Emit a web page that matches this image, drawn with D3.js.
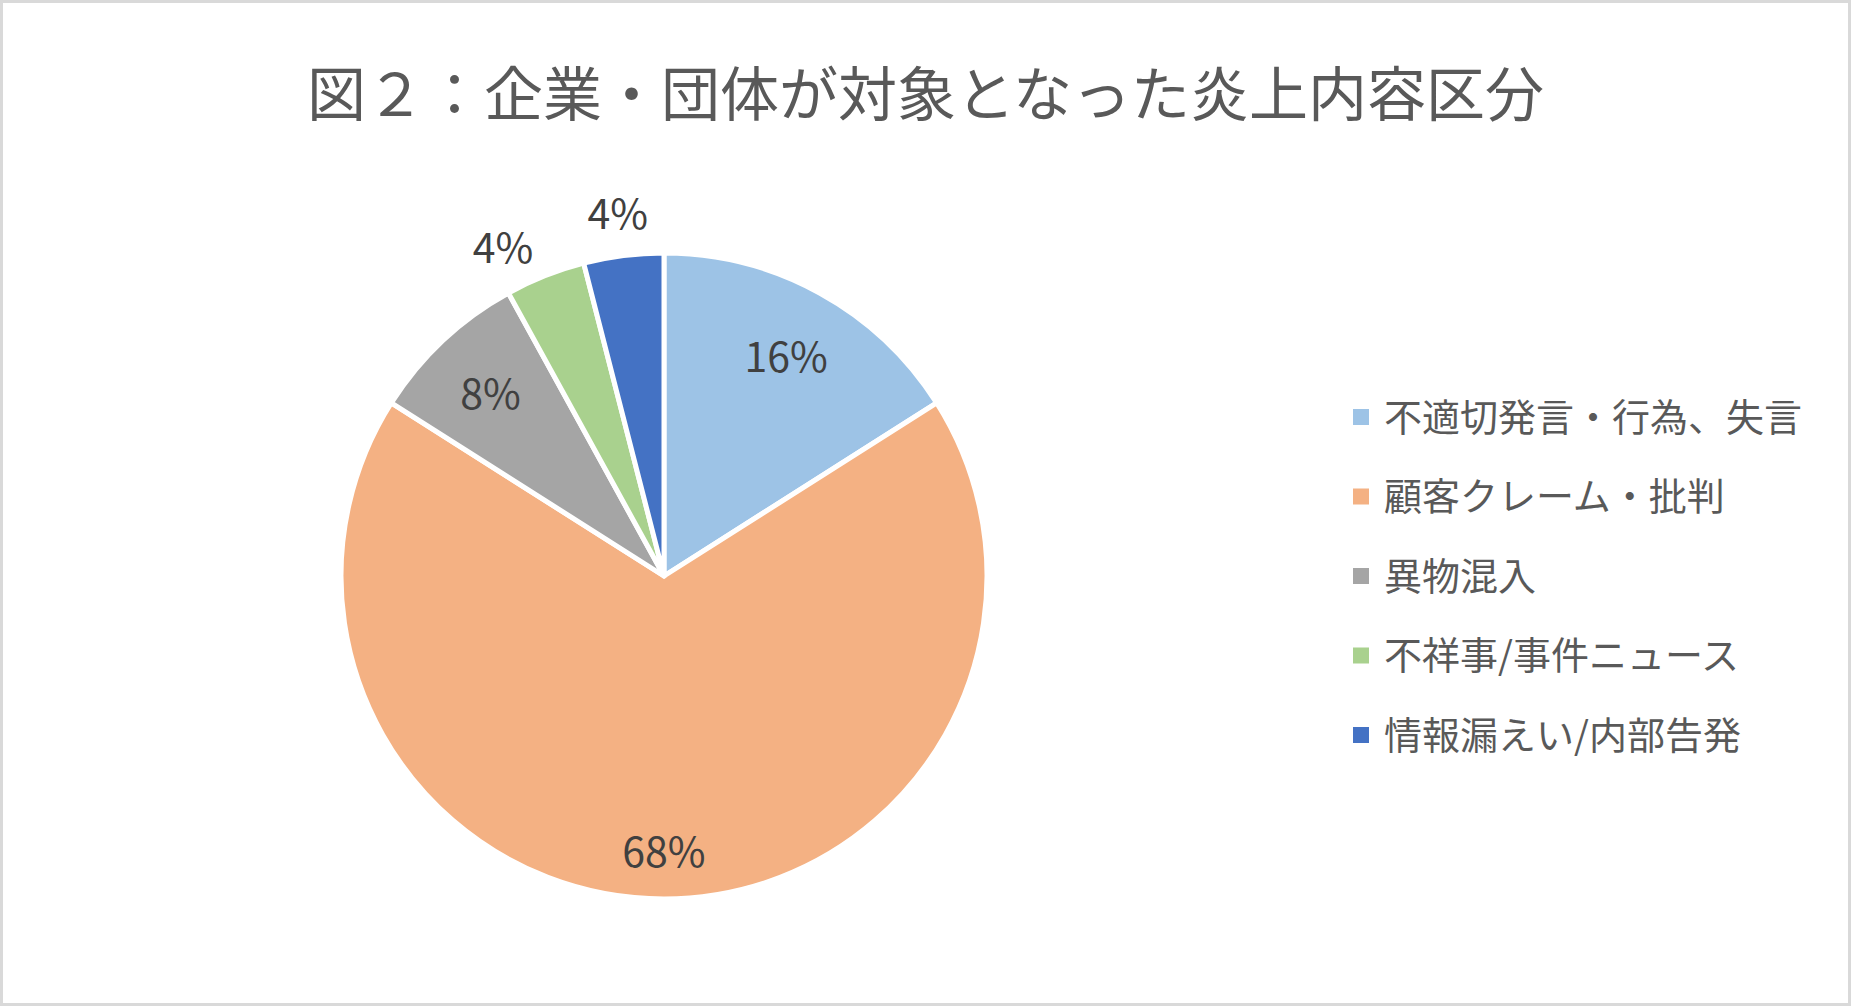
<!DOCTYPE html>
<html lang="ja">
<head>
<meta charset="UTF-8">
<title>図２：企業・団体が対象となった炎上内容区分</title>
<script src="https://cdnjs.cloudflare.com/ajax/libs/d3/7.8.5/d3.min.js"></script>
<style>
  body { margin: 0; background: #fff; }
  svg { display: block; font-family: "Noto Sans CJK JP", "Noto Sans", sans-serif; }
</style>
</head>
<body>
<svg id="chart" width="1851" height="1006"></svg>
<script>
// data (counts giving 16/68/8/4/4 %)
const categories = ["不適切発言・行為、失言", "顧客クレーム・批判", "異物混入", "不祥事/事件ニュース", "情報漏えい/内部告発"];
const counts = [4, 17, 2, 1, 1];
const colors = ["#9dc3e6", "#f4b183", "#a5a5a5", "#a9d18e", "#4472c4"];
const title = "図２：企業・団体が対象となった炎上内容区分";

const W = 1851, H = 1006;
const svg = d3.select("#chart");

// outer frame
svg.append("rect")
  .attr("x", 1.5).attr("y", 1.5)
  .attr("width", W - 3).attr("height", H - 3)
  .attr("fill", "#fff")
  .attr("stroke", "#d9d9d9")
  .attr("stroke-width", 3);

// title
svg.append("text")
  .attr("x", W / 2).attr("y", 90)
  .attr("text-anchor", "middle")
  .attr("dominant-baseline", "central")
  .attr("fill", "#595959")
  .attr("font-size", 59)
  .text(title);

// pie
const cx = 664, cy = 576, r = 323;
const total = d3.sum(counts);
const items = categories.map((c, i) => ({ name: c, value: counts[i], color: colors[i] }));

const pie = d3.pie().sort(null).value(d => d.value);
const arcs = pie(items);
const arc = d3.arc().innerRadius(0).outerRadius(r);

const g = svg.append("g").attr("transform", `translate(${cx},${cy})`);

g.selectAll("path")
  .data(arcs)
  .enter()
  .append("path")
  .attr("d", arc)
  .attr("fill", d => d.data.color)
  .attr("stroke", "#fff")
  .attr("stroke-width", 5)
  .attr("stroke-linejoin", "round");

// percentage labels: small slices go outside, big ones inside
const fmt = d3.format(".0%");

g.selectAll("text.pct")
  .data(arcs)
  .enter()
  .append("text")
  .attr("class", "pct")
  .attr("text-anchor", "middle")
  .attr("dominant-baseline", "central")
  .attr("fill", "#404040")
  .attr("font-size", 41)
  .text(d => fmt(d.data.value / total))
  .each(function (d) {
    const share = d.data.value / total;
    const a = (d.startAngle + d.endAngle) / 2;
    const s = Math.sin(a), c = Math.cos(a);
    let x, y;
    if (share < 0.05) {
      // outside: push the box away from the edge like Excel's best fit
      const box = this.getBBox();
      const R = r * 1.14;
      const t = Math.max(0, Math.min(1, (Math.abs(s) - 0.2) * 5));
      x = R * s + Math.sign(s) * t * box.width / 2;
      y = -R * c + c * t * box.height / 4;
    } else {
      const lr = share > 0.5 ? r * 0.845 : r * 0.785;
      x = lr * s;
      y = -lr * c;
    }
    d3.select(this).attr("x", x).attr("y", y);
  });

// legend
const legendY = d3.scalePoint()
  .domain(categories)
  .range([417, 735]);

const lg = svg.append("g");
const row = lg.selectAll("g")
  .data(items)
  .enter()
  .append("g")
  .attr("transform", d => `translate(1353,${legendY(d.name)})`);

row.append("rect")
  .attr("x", 0).attr("y", -8)
  .attr("width", 16).attr("height", 16)
  .attr("fill", d => d.color);

row.append("text")
  .attr("x", 31).attr("y", -3)
  .attr("dominant-baseline", "central")
  .attr("fill", "#595959")
  .attr("font-size", 38)
  .text(d => d.name);
</script>
</body>
</html>
